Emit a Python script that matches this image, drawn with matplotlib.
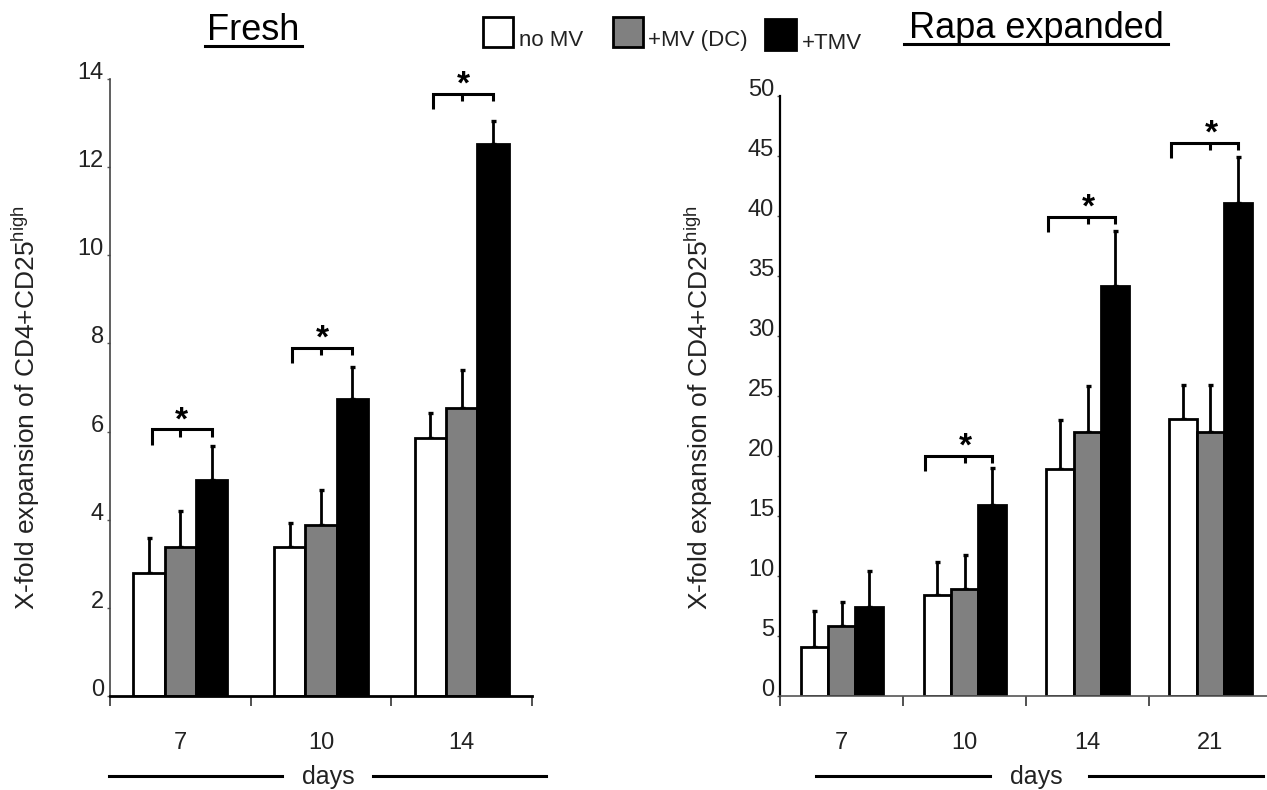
import numpy as np
import matplotlib
matplotlib.use("Agg")
import matplotlib.pyplot as plt
from matplotlib.lines import Line2D
from matplotlib.patches import Rectangle

plt.rcParams['font.family'] = ['Liberation Sans', 'DejaVu Sans']
plt.rcParams['mathtext.fontset'] = 'custom'
plt.rcParams['mathtext.rm'] = 'Liberation Sans'
plt.rcParams['mathtext.it'] = 'Liberation Sans:italic'

groups = ['no MV', '+MV (DC)', '+TMV']
colors = ['white', '#808080', 'black']

# Fresh
fresh_days = ['7', '10', '14']
fresh_nomv = [2.80, 3.37, 5.85]
fresh_mvdc = [3.37, 3.87, 6.53]
fresh_tmv = [4.89, 6.74, 12.52]
fresh_nomv_err = [0.79, 0.55, 0.57]
fresh_mvdc_err = [0.82, 0.80, 0.87]
fresh_tmv_err = [0.78, 0.73, 0.53]
fresh_star_days = [0, 1, 2]
fresh_star_y = [6.05, 7.90, 13.66]

# Rapa expanded
rapa_days = ['7', '10', '14', '21']
rapa_nomv = [4.06, 8.42, 18.89, 23.08]
rapa_mvdc = [5.86, 8.92, 22.03, 22.03]
rapa_tmv = [7.42, 15.92, 34.17, 41.10]
rapa_nomv_err = [3.04, 2.72, 4.14, 2.84]
rapa_mvdc_err = [1.97, 2.80, 3.83, 3.89]
rapa_tmv_err = [3.00, 3.05, 4.58, 3.80]
rapa_star_days = [1, 2, 3]
rapa_star_y = [20.0, 39.94, 46.1]

W = 0.223
FW, FH = 1267, 790

fig = plt.figure(figsize=(FW / 100, FH / 100), dpi=100)


def px(x, y):
    # pixel position -> figure fraction
    return x / FW, 1 - y / FH


def panel(rect, days, vals, errs, ymax, step, star_days, star_y, left_off,
          ycol, ylw, xcol, xlw):
    ax = fig.add_axes(rect)
    x = np.arange(len(days))
    for k in range(3):
        xs = x + (k - 1) * W
        ax.errorbar(xs, vals[k], yerr=[np.zeros(len(days)), errs[k]], fmt='none',
                    ecolor='black', elinewidth=2.0, capsize=1.8, capthick=2.4,
                    zorder=1)
        ax.bar(xs, vals[k], W, color=colors[k], edgecolor='black',
               linewidth=2, zorder=2, label=groups[k])
    ax.set_xlim(-0.5, len(days) - 0.5)
    ax.set_ylim(0, ymax)
    for s in ['top', 'right']:
        ax.spines[s].set_visible(False)
    ax.spines['left'].set_color(ycol)
    ax.spines['left'].set_linewidth(ylw)
    ax.spines['bottom'].set_color(xcol)
    ax.spines['bottom'].set_linewidth(xlw)

    ax.set_xticks(np.arange(len(days) + 1) - 0.5)
    ax.set_xticklabels([])
    ax.tick_params(axis='x', which='major', direction='out', length=7.5,
                   width=1.2, color='#333333')
    ax.set_xticks(x, minor=True)
    ax.set_xticklabels(days, minor=True)
    ax.tick_params(axis='x', which='minor', length=0, pad=26, labelsize=17,
                   labelcolor='#222222')

    ax.set_yticks(np.arange(0, ymax + 0.1, step))
    ax.set_yticklabels([f'{v:g}' for v in np.arange(0, ymax + 0.1, step)])
    ax.tick_params(axis='y', direction='out', length=2.5, width=1,
                   pad=2, labelsize=17, labelcolor='#222222', color='#555555')
    for lab in ax.get_yticklabels():
        lab.set_va('baseline')

    # significance brackets
    leg1 = 0.025 * ymax
    leg2 = 0.012 * ymax
    for d, yb in zip(star_days, star_y):
        xl = d - W + left_off
        xr = d + W
        ax.plot([xl, xl, xr, xr], [yb - leg1, yb, yb, yb - leg2], color='black',
                lw=2.2, solid_joinstyle='miter', solid_capstyle='butt',
                clip_on=False, zorder=3)
        ax.plot([d, d], [yb, yb - leg2], color='black', lw=2.2,
                solid_capstyle='butt', clip_on=False, zorder=3)
        ax.text(d + 0.01, yb, '*', ha='center', va='baseline', fontsize=24,
                fontweight='bold', clip_on=False)
    return ax


ax1 = panel([110 / FW, 94 / FH, 422 / FW, 617 / FH], fresh_days,
            [fresh_nomv, fresh_mvdc, fresh_tmv],
            [fresh_nomv_err, fresh_mvdc_err, fresh_tmv_err],
            14, 2, fresh_star_days, fresh_star_y, 0.02,
            '#444444', 1.2, 'black', 2.0)
ax2 = panel([780.3 / FW, 94 / FH, 491.6 / FW, 600 / FH], rapa_days,
            [rapa_nomv, rapa_mvdc, rapa_tmv],
            [rapa_nomv_err, rapa_mvdc_err, rapa_tmv_err],
            50, 5, rapa_star_days, rapa_star_y, -0.1,
            'black', 1.6, '#555555', 1.2)

ylab = 'X-fold expansion of CD4+CD25$^{\\mathrm{high}}$'
fig.text(*px(26, 408), ylab, rotation=90, ha='center', va='center',
         fontsize=19, color='#222222')
fig.text(*px(699, 408), ylab, rotation=90, ha='center', va='center',
         fontsize=19, color='#222222')

# panel titles, underlined
fig.text(*px(253.5, 40), 'Fresh', ha='center', va='baseline', fontsize=26)
fig.add_artist(Line2D([205 / FW, 302 / FW], [1 - 45.5 / FH] * 2,
                      color='black', lw=2.2))
fig.text(*px(1036, 38), 'Rapa expanded', ha='center', va='baseline', fontsize=26)
fig.add_artist(Line2D([904 / FW, 1168 / FW], [1 - 43.5 / FH] * 2,
                      color='black', lw=2.2))

# legend
leg_boxes = [(483, 17.3, 513, 46.7), (612.7, 16.7, 643.3, 46.7), (765, 19, 796, 50)]
leg_text = [(519, 46), (648, 46), (802, 49)]
for k in range(3):
    x0, y0, x1, y1 = leg_boxes[k]
    fig.add_artist(Rectangle(px(x0, y1), (x1 - x0) / FW, (y1 - y0) / FH,
                             transform=fig.transFigure, facecolor=colors[k],
                             edgecolor='black', linewidth=2))
    fig.text(*px(*leg_text[k]), groups[k], ha='left', va='baseline',
             fontsize=16, color='#222222')

# "days" captions with rules
for cx, segs in [(328.6, [(109, 282), (373, 546.4)]),
                 (1036.6, [(815.5, 990), (1088.8, 1263)])]:
    fig.text(*px(cx, 777), 'days', ha='center', va='center', fontsize=18,
             color='#222222')
    for a, b in segs:
        fig.add_artist(Line2D([a / FW, b / FW], [1 - 775.5 / FH] * 2,
                              color='black', lw=2.2))

fig.savefig('out.png', dpi=100)
